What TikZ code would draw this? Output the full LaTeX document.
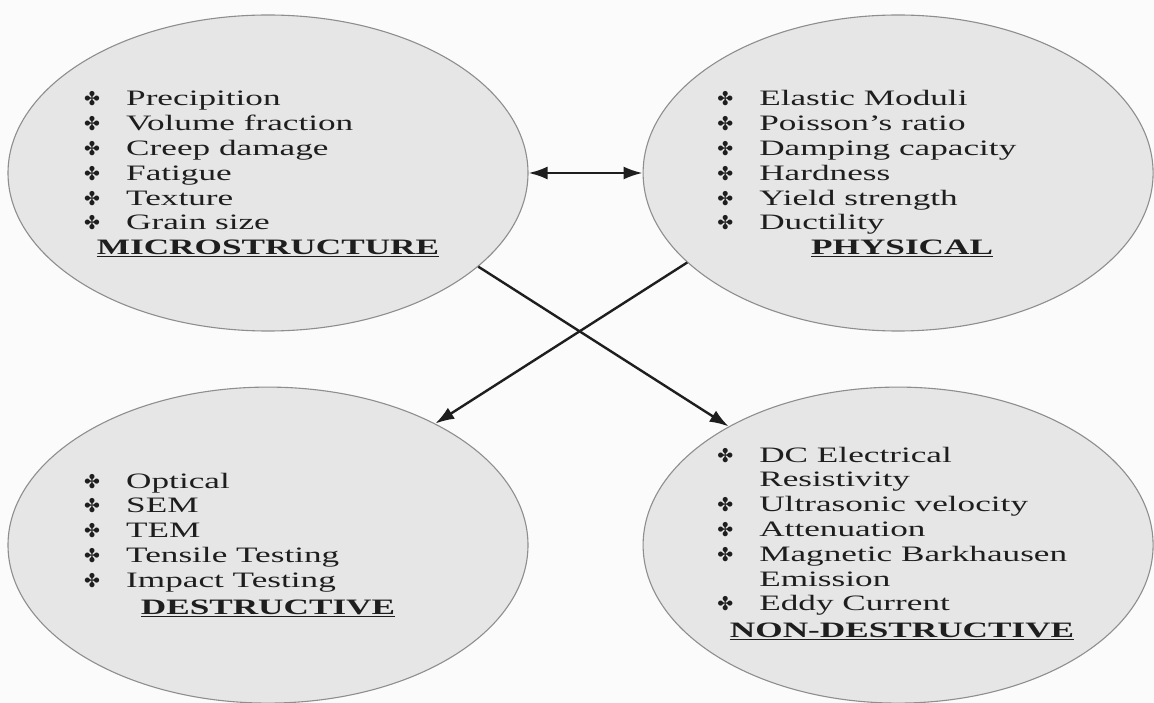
\documentclass[tikz,border=0pt]{standalone}
\usepackage{fontspec}
\setmainfont{Liberation Serif}[FakeStretch=1.6]
\newfontfamily\bulfont{DejaVu Sans}
\usetikzlibrary{
	arrows.meta,
	positioning,
	shapes.geometric
}
\definecolor{ellfill}{HTML}{E6E6E6}
\definecolor{elldraw}{HTML}{8E8E8E}
\definecolor{bgcol}{HTML}{FBFBFB}
\definecolor{txt}{HTML}{1E1E1E}
\newcommand{\bul}{\makebox[42pt][l]{\bulfont\fontsize{19}{19}\selectfont\raisebox{0pt}{✤}}}
\newcommand{\ind}{\hspace*{42pt}}

\begin{document}
\begin{tikzpicture}[x=1pt,y=1pt,>={Latex[length=19pt,width=13pt]},
        line width=2.4pt,main
       node/.style={ellipse,draw=elldraw,line width=1.1pt,fill=ellfill,inner sep=0pt,minimum height=316pt},
        list/.style={anchor=base west,inner sep=0pt,text=txt,font=\fontsize{22}{24.8}\selectfont},
        head/.style={anchor=base,inner sep=0pt,text=txt,font=\fontsize{22}{24.8}\selectfont\bfseries}]
        \fill[bgcol] (0,0) rectangle (1154,-703);
        \useasboundingbox (0,0) rectangle (1154,-703);

        \node[main node,minimum width=520pt] (micro) at (268,-173) {};
        \node[main node,minimum width=510pt] (phys) [right = 114pt of micro] {};
        \node[main node,minimum width=520pt] (dest) [below = 55pt of micro] {};
        \node[main node,minimum width=510pt] (nondest) [right = 114pt of dest] {};

        \node[list] (microlist) at ([shift={(-185,67)}]micro.center) {\begin{tabular}[t]{@{}l@{}}
          \bul Precipition\\ \bul Volume fraction\\ \bul Creep damage\\
          \bul Fatigue\\ \bul Texture\\ \bul Grain size\end{tabular}};
        \node[head] (microhead) at ([yshift=-82pt]micro.center) {\underline{MICROSTRUCTURE}};

        \node[list] (physlist) at ([shift={(-182,67)}]phys.center) {\begin{tabular}[t]{@{}l@{}}
          \bul Elastic Moduli\\ \bul Poisson’s ratio\\ \bul Damping capacity\\
          \bul Hardness\\ \bul Yield strength\\ \bul Ductility\end{tabular}};
        \node[head] (physhead) at ([shift={(4,-82)}]phys.center) {\underline{PHYSICAL}};

        \node[list] (destlist) at ([shift={(-185,57)}]dest.center) {\begin{tabular}[t]{@{}l@{}}
          \bul Optical\\ \bul SEM\\ \bul TEM\\
          \bul Tensile Testing\\ \bul Impact Testing\end{tabular}};
        \node[head] (desthead) at ([yshift=-69pt]dest.center) {\underline{DESTRUCTIVE}};

        \node[list] (nondestlist) at ([shift={(-182,83)}]nondest.center) {\begin{tabular}[t]{@{}l@{}}
          \bul DC Electrical\\ \ind Resistivity\\ \bul Ultrasonic velocity\\
          \bul Attenuation\\ \bul Magnetic Barkhausen\\ \ind Emission\\
          \bul Eddy Current\end{tabular}};
        \node[head] (nondesthead) at ([shift={(4,-92)}]nondest.center) {\underline{NON-DESTRUCTIVE}};

          \draw[<->,txt] (micro.east) -- (phys.west);
          \draw[->,txt] (micro.-24) -- (nondest.145);
          \draw[->,txt] (phys.-157) -- (dest.36);

      \end{tikzpicture}
\end{document}
